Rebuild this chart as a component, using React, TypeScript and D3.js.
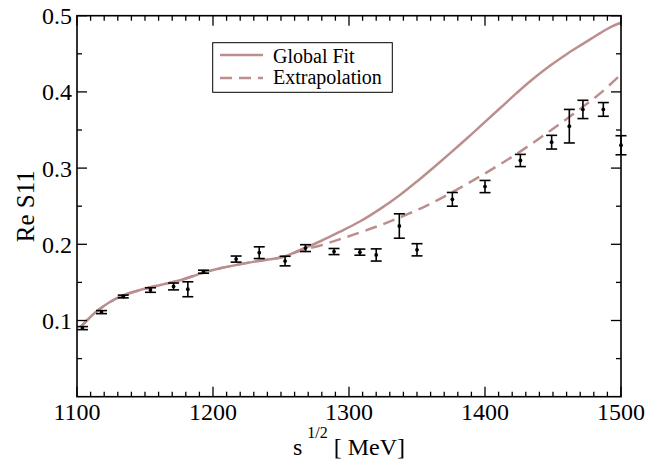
import React from "react";
import * as d3 from "d3";

const fitX = [1103, 1113, 1123, 1133, 1147, 1162, 1177, 1192, 1206, 1231, 1252, 1264, 1279, 1293, 1308, 1323, 1337, 1350, 1362, 1374, 1387, 1399, 1411, 1423, 1435, 1448, 1460, 1472, 1485, 1492, 1500];
const fitY = [0.0922, 0.1098, 0.1229, 0.1324, 0.1403, 0.1469, 0.1534, 0.1622, 0.1688, 0.1774, 0.1836, 0.1925, 0.204, 0.2162, 0.2299, 0.2465, 0.264, 0.2825, 0.3005, 0.319, 0.3395, 0.359, 0.3785, 0.398, 0.4165, 0.4345, 0.4495, 0.463, 0.4775, 0.4848, 0.4908];

const extX = [1103, 1113, 1123, 1133, 1147, 1162, 1177, 1192, 1206, 1231, 1252, 1264, 1279, 1293, 1308, 1323, 1337, 1352, 1364, 1376, 1388, 1400, 1412, 1424, 1436, 1448, 1460, 1472, 1486, 1500];
const extY = [0.0922, 0.1098, 0.1229, 0.1324, 0.1403, 0.1469, 0.1534, 0.1622, 0.1688, 0.1774, 0.1836, 0.1915, 0.1985, 0.2065, 0.2155, 0.225, 0.235, 0.2465, 0.257, 0.2685, 0.2805, 0.293, 0.306, 0.3195, 0.334, 0.349, 0.3645, 0.3805, 0.4, 0.423];

const dataX = [1104, 1118, 1134, 1154, 1171, 1181.5, 1193, 1217, 1234, 1253, 1268, 1289, 1308, 1320, 1337, 1350, 1376, 1400, 1426, 1449, 1462, 1472, 1487, 1500];
const dataY = [0.09, 0.111, 0.1315, 0.14, 0.1447, 0.141, 0.164, 0.1806, 0.189, 0.178, 0.195, 0.1905, 0.1897, 0.186, 0.224, 0.1928, 0.259, 0.2758, 0.31, 0.334, 0.355, 0.377, 0.377, 0.33];
const dataErr = [0.002, 0.002, 0.0018, 0.003, 0.0045, 0.0098, 0.002, 0.004, 0.0077, 0.0063, 0.0045, 0.004, 0.004, 0.008, 0.016, 0.008, 0.009, 0.008, 0.008, 0.009, 0.022, 0.012, 0.009, 0.0125];

const xMajor = [1100, 1200, 1300, 1400, 1500];
const yMajor = [0.1, 0.2, 0.3, 0.4, 0.5];
const yMajorLabels = ["0.1", "0.2", "0.3", "0.4", "0.5"];

const W = 649, H = 462;
const L = 77, R = 621, T = 15.7, B = 396.7;
const CURVE = "#bc8f8f";
const FONT = "'Liberation Serif', 'Times New Roman', serif";

export default function App() {
  const x = d3.scaleLinear().domain([1100, 1500]).range([L, R]);
  const y = d3.scaleLinear().domain([0, 0.5]).range([B, T]);
  const line = d3.line<[number, number]>().x(d => x(d[0])).y(d => y(d[1])).curve(d3.curveCatmullRom.alpha(0.5));
  const fitPath = line(fitX.map((v, i) => [v, fitY[i]] as [number, number])) || "";
  const extPath = line(extX.map((v, i) => [v, extY[i]] as [number, number])) || "";

  const xMinor = d3.range(1100, 1501, 10).filter(v => v % 100 !== 0);
  const yMinor = d3.range(0.05, 0.5, 0.1);

  const ticks: JSX.Element[] = [];
  xMajor.forEach((v, i) => {
    ticks.push(<line key={"xb" + i} x1={x(v)} x2={x(v)} y1={B} y2={B - 10} />);
    ticks.push(<line key={"xt" + i} x1={x(v)} x2={x(v)} y1={T} y2={T + 10} />);
  });
  xMinor.forEach((v, i) => {
    ticks.push(<line key={"xbm" + i} x1={x(v)} x2={x(v)} y1={B} y2={B - 5} />);
    ticks.push(<line key={"xtm" + i} x1={x(v)} x2={x(v)} y1={T} y2={T + 5} />);
  });
  yMajor.forEach((v, i) => {
    ticks.push(<line key={"yl" + i} x1={L} x2={L + 10} y1={y(v)} y2={y(v)} />);
    ticks.push(<line key={"yr" + i} x1={R} x2={R - 10} y1={y(v)} y2={y(v)} />);
  });
  yMinor.forEach((v, i) => {
    ticks.push(<line key={"ylm" + i} x1={L} x2={L + 5} y1={y(v)} y2={y(v)} />);
    ticks.push(<line key={"yrm" + i} x1={R} x2={R - 5} y1={y(v)} y2={y(v)} />);
  });

  return (
    <svg width={W} height={H} style={{ position: "absolute", left: 0, top: 0, background: "#fff" }} fontFamily={FONT}>
      <rect x={0} y={0} width={W} height={H} fill="#fff" />
      <path d={fitPath} fill="none" stroke={CURVE} strokeWidth={2.5} />
      <path d={extPath} fill="none" stroke={CURVE} strokeWidth={2.5} strokeDasharray="12,7" />
      <g stroke="#000" strokeWidth={1.6}>
        {dataX.map((v, i) => {
          const cx = x(v);
          const y1 = y(dataY[i] + dataErr[i]);
          const y2 = y(dataY[i] - dataErr[i]);
          return (
            <g key={"e" + i}>
              <line x1={cx} x2={cx} y1={y1} y2={y2} />
              <line x1={cx - 5.5} x2={cx + 5.5} y1={y1} y2={y1} />
              <line x1={cx - 5.5} x2={cx + 5.5} y1={y2} y2={y2} />
            </g>
          );
        })}
      </g>
      {dataX.map((v, i) => (
        <circle key={"p" + i} cx={x(v)} cy={y(dataY[i])} r={1.9} fill="#000" />
      ))}
      <rect x={L} y={T} width={R - L} height={B - T} fill="none" stroke="#000" strokeWidth={1.6} />
      <g stroke="#000" strokeWidth={1.3}>{ticks}</g>
      <g fontSize={24} fill="#000">
        {xMajor.map((v, i) => (
          <text key={"xl" + i} x={x(v)} y={B + 23.5} textAnchor="middle">{v}</text>
        ))}
        {yMajor.map((v, i) => (
          <text key={"yl" + i} x={72} y={y(v) + 8.5} textAnchor="end">{yMajorLabels[i]}</text>
        ))}
      </g>
      <text x={349} y={455} textAnchor="middle" fontSize={24} fill="#000">
        <tspan>s</tspan>
        <tspan dx={5} dy={-17} fontSize={16}>1/2</tspan>
        <tspan dy={17}> [ MeV]</tspan>
      </text>
      <text transform={`translate(34,${(T + B) / 2}) rotate(-90)`} textAnchor="middle" fontSize={25} fill="#000">Re S11</text>
      <g>
        <rect x={212.7} y={42.7} width={179.6} height={49.6} fill="#fff" stroke="#000" strokeWidth={1} />
        <line x1={220} x2={263} y1={55} y2={55} stroke={CURVE} strokeWidth={2.5} />
        <line x1={220} x2={263} y1={78} y2={78} stroke={CURVE} strokeWidth={2.5} strokeDasharray="12,7" />
        <text x={273} y={62.5} fontSize={20} fill="#000">Global Fit</text>
        <text x={273} y={83.5} fontSize={20} fill="#000">Extrapolation</text>
      </g>
    </svg>
  );
}
